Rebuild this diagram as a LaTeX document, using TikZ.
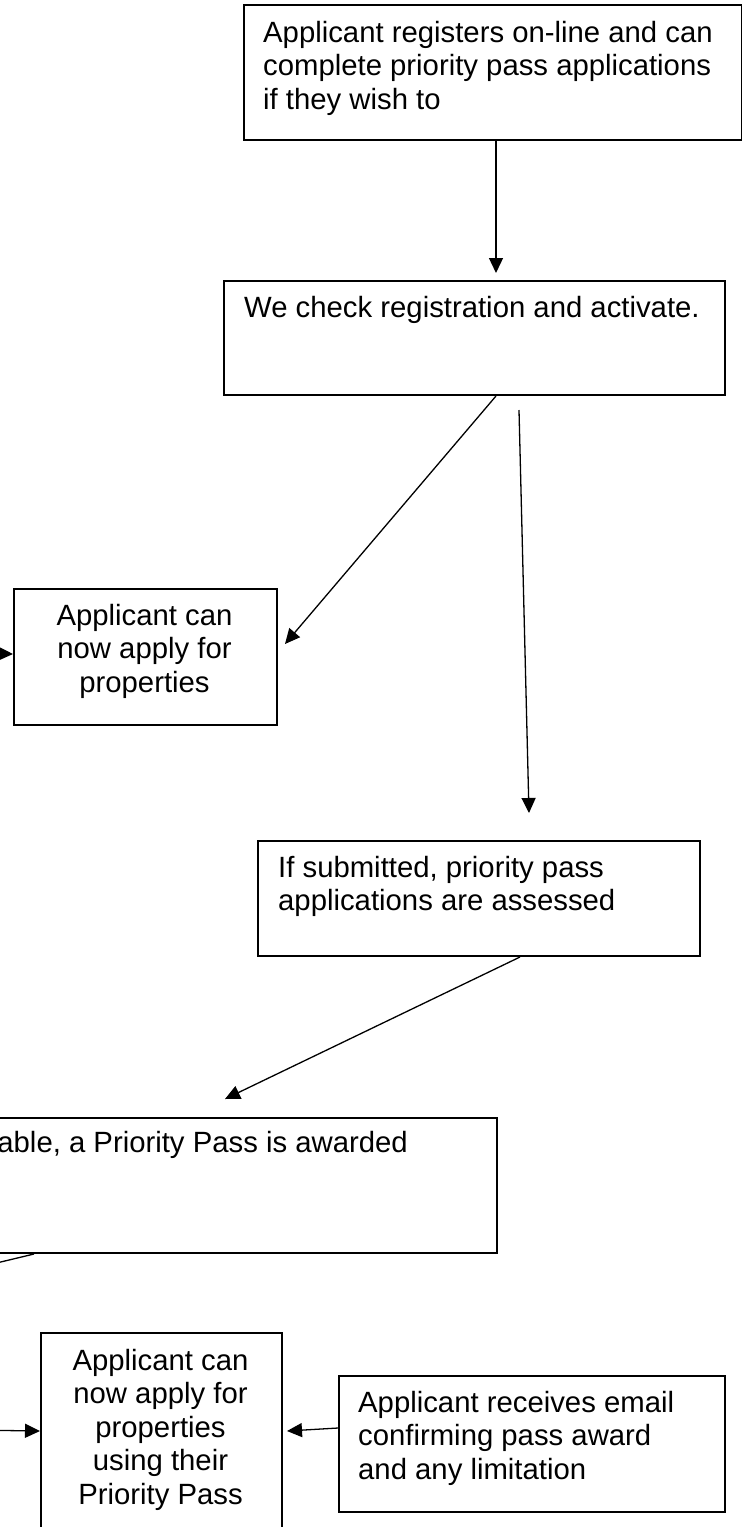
\documentclass[tikz,border=0pt]{standalone}
\usepackage{fontspec}
\setmainfont{Liberation Sans}
\usetikzlibrary{calc,arrows.meta}
\tikzset{
  box/.style={draw=black, line width=2pt, rectangle, inner sep=0pt, anchor=north west},
  txt/.style={inner sep=0pt, font=\fontsize{29.3}{33.5}\selectfont},
  arr/.style={draw=black, line width=1.3pt, -{Triangle[length=15pt,width=14pt]}},
  ln/.style={draw=black, line width=1.3pt}
}
\newcommand{\lt}[2]{\parbox[t]{#1pt}{\raggedright\strut #2}}
\newcommand{\ct}[2]{\parbox[t]{#1pt}{\centering\strut #2}}
\begin{document}
\begin{tikzpicture}[x=1pt,y=-1pt]
\useasboundingbox (0,0) rectangle (742,1527);
\clip (0,0) rectangle (742,1527);
% boxes
\node[box, minimum width=498pt, minimum height=135pt] (b1) at (243,4) {};
\node[box, minimum width=501pt, minimum height=114pt] (b2) at (223,280) {};
\node[box, minimum width=263pt, minimum height=136pt] (b3) at (13,588) {};
\node[box, minimum width=442pt, minimum height=115pt] (b4) at (257,840) {};
\node[box, minimum width=619pt, minimum height=135pt] (b5) at (-123,1117) {};
\node[box, minimum width=241pt, minimum height=228pt] (b6) at (40,1332) {};
\node[box, minimum width=386pt, minimum height=136pt] (b7) at (338,1375) {};
% texts
\node[txt, anchor=base west] (t1) at (263,42) {\lt{470}{Applicant registers on-line and can\\complete priority pass applications\\if they wish to}};
\node[txt, anchor=base west] (t2) at (244,317) {\lt{470}{We check registration and activate.}};
\node[txt, anchor=base] (t3) at (144.5,625) {\ct{250}{Applicant can\\now apply for\\properties}};
\node[txt, anchor=base west] (t4) at (278,877) {\lt{420}{If submitted, priority pass\\applications are assessed}};
\node[txt, anchor=base east] (t5) at (408,1152) {able, a Priority Pass is awarded};
\node[txt, anchor=base] (t6) at (160.5,1370) {\ct{240}{Applicant can\\now apply for\\properties\\using their\\Priority Pass}};
\node[txt, anchor=base west] (t7) at (358,1412) {\lt{370}{Applicant receives email\\confirming pass award\\and any limitation}};
% free ends
\coordinate (in3) at (-30,653);
\coordinate (in6) at (-30,1430);
\coordinate (out5) at (-66,1278);
% connectors
\draw[arr] ($(b1.south)+(3,0)$) -- ($(b2.north)+(21.5,-7)$);
\draw[arr] ($(b2.south)+(21.5,0)$) -- ($(b3.east)+(7,-13)$);
\draw[arr] ($(b2.south)+(44.5,14)$) -- ($(b4.north)+(50,-27)$);
\draw[arr] ($(b4.south)+(41,0)$) -- ($(b5.north)+(37.5,-18)$);
\draw[ln] ($(b5.south)+(-153.5,0)$) -- (out5);
\draw[arr] (in3) -- ($(b3.west)+(0,-3)$);
\draw[arr] (in6) -- ($(b6.west)+(0,-16)$);
\draw[arr] ($(b7.west)+(0,-16)$) -- ($(b6.east)+(4,-16)$);
\end{tikzpicture}
\end{document}
